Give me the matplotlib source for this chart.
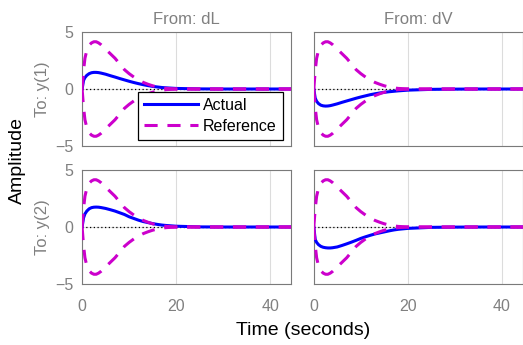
import matplotlib
matplotlib.use("Agg")
import matplotlib.pyplot as plt

plt.rcParams['font.family'] = ['Liberation Sans', 'DejaVu Sans']

# time samples (seconds)
t = [0, 0.3, 0.6, 1, 1.5, 2, 2.5, 3, 3.5, 4, 5, 6, 7, 8, 9, 10, 11, 12,
     13, 14, 15, 16, 17, 18, 20, 25, 30, 35, 40, 45]

# reference envelope (upper); lower is the mirror
ref_upper = [0, 1.6, 2.7, 3.4, 3.85, 4.05, 4.15, 4.15, 4.05, 3.9, 3.5, 3.1,
             2.7, 2.2, 1.7, 1.35, 1.05, 0.8, 0.58, 0.42, 0.28, 0.18, 0.1,
             0.05, 0.01, 0, 0, 0, 0, 0]

# actual responses, one per (output, input)
y1_dL = [0, 0.75, 1.0, 1.2, 1.35, 1.43, 1.46, 1.46, 1.44, 1.4, 1.3, 1.17,
         1.05, 0.92, 0.8, 0.68, 0.57, 0.47, 0.38, 0.3, 0.23, 0.18, 0.13,
         0.1, 0.05, 0.01, 0, 0, 0, 0]
y1_dV = [0, -0.8, -1.08, -1.28, -1.42, -1.48, -1.5, -1.49, -1.46, -1.41,
         -1.3, -1.17, -1.05, -0.93, -0.81, -0.7, -0.6, -0.5, -0.42, -0.35,
         -0.29, -0.24, -0.2, -0.16, -0.1, -0.03, -0.01, 0, 0, 0]
y2_dL = [0, 0.8, 1.15, 1.4, 1.6, 1.7, 1.74, 1.75, 1.74, 1.71, 1.63, 1.52,
         1.4, 1.25, 1.1, 0.9, 0.75, 0.6, 0.48, 0.39, 0.3, 0.23, 0.17, 0.13,
         0.07, 0.01, 0, 0, 0, 0]
y2_dV = [0, -1.1, -1.35, -1.55, -1.7, -1.78, -1.82, -1.84, -1.84, -1.82,
         -1.75, -1.62, -1.48, -1.33, -1.17, -1.0, -0.86, -0.73, -0.61,
         -0.52, -0.43, -0.34, -0.26, -0.2, -0.12, -0.03, -0.01, 0, 0, 0]

inputs = ["dL", "dV"]
outputs = ["y(1)", "y(2)"]
actual = [[y1_dL, y1_dV], [y2_dL, y2_dV]]

GRAY = "#808080"
SPINE = "#7a7a7a"
DASH = (0, (4.3, 3.2))

fig = plt.figure(figsize=(5.23, 3.45), dpi=100)
lefts = [0.157, 0.600]
bottoms = [0.577, 0.177]
w, h = 0.40, 0.330

ref_lower = [-v for v in ref_upper]

for r in range(2):
    for c in range(2):
        ax = fig.add_axes([lefts[c], bottoms[r], w, h])
        ax.axhline(0, color="black", linestyle=(0, (1, 2)), linewidth=0.9, zorder=1)
        ax.plot(t, actual[r][c], color="#0000ff", linewidth=2.2, label="Actual", zorder=3)
        ax.plot(t, ref_upper, color="#cc00cc", linewidth=2.2, linestyle=DASH,
                label="Reference", zorder=4)
        ax.plot(t, ref_lower, color="#cc00cc", linewidth=2.2, linestyle=DASH, zorder=4)
        ax.set_xlim(0, 44.5)
        ax.set_ylim(-5, 5)
        ax.set_xticks([0, 20, 40])
        ax.set_yticks([-5, 0, 5])
        ax.grid(True, color="#dcdcdc", linewidth=0.8)
        ax.set_axisbelow(True)
        for s in ax.spines.values():
            s.set_color(SPINE)
            s.set_linewidth(0.8)
        ax.tick_params(length=0, colors=GRAY, labelsize=11.5)
        ax.tick_params(axis="x", pad=11)
        ax.tick_params(axis="y", pad=6.5)
        if c == 1:
            ax.set_yticklabels([])
        if r == 0:
            ax.set_xticklabels([])
            ax.set_title("From: " + inputs[c], color=GRAY, fontsize=12, pad=6)
        if c == 0:
            ax.set_ylabel("To: " + outputs[r], color=GRAY, fontsize=12, labelpad=3.5)
        if r == 0 and c == 0:
            leg = ax.legend(loc="lower right", bbox_to_anchor=(0.962, 0.053),
                            borderaxespad=0, fontsize=11.5, frameon=True, fancybox=False,
                            edgecolor="black", framealpha=1, handlelength=3.4,
                            handletextpad=0.3, borderpad=0.4, labelspacing=0.35)
            leg.get_frame().set_linewidth(0.9)

fig.text(0.033, 0.536, "Amplitude", rotation=90, va="center", ha="center", fontsize=14)
fig.text(0.580, 0.043, "Time (seconds)", va="center", ha="center", fontsize=14)

fig.savefig("out.png", dpi=100)
